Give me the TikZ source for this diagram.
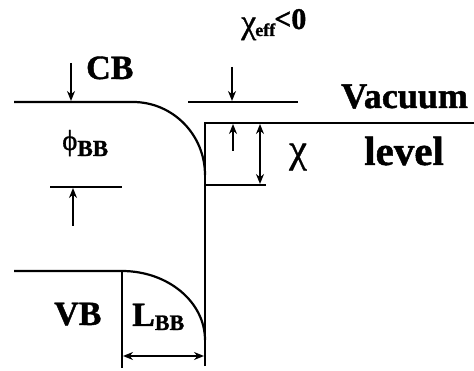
\documentclass[tikz,border=0pt]{standalone}
\usepackage{fontspec}
\setmainfont{Liberation Serif}[BoldFeatures={FakeBold=1.2},UprightFeatures={FakeBold=0.8}]
\usetikzlibrary{arrows.meta}
\begin{document}
\begin{tikzpicture}[x=1pt,y=-1pt,
  band/.style={line width=2.2pt},
  dim/.style={line width=1.6pt,-{Stealth[length=10pt,width=8pt]}},
  ddim/.style={line width=1.6pt,{Stealth[length=10pt,width=8pt]}-{Stealth[length=10pt,width=8pt]}},
  lbl/.style={inner sep=0pt,anchor=base west},
  big/.style={font=\fontsize{34}{34}\selectfont\bfseries}]
\useasboundingbox (0,0) rectangle (474,371);
% coordinates
\coordinate (cbL) at (14,102);
\coordinate (cbK) at (133,102);
\coordinate (cbE) at (205,175);
\coordinate (surfT) at (205,123);
\coordinate (surfB) at (205,366);
\coordinate (vacR) at (474,123);
\coordinate (chiB1) at (205,185);
\coordinate (chiB2) at (266,185);
\coordinate (effL) at (188,102);
\coordinate (effR) at (298,102);
\coordinate (phL) at (50,187);
\coordinate (phR) at (122,187);
\coordinate (vbL) at (14,271);
\coordinate (vbK) at (122,271);
\coordinate (vbE) at (205,340);
\coordinate (lbT) at (122,271);
\coordinate (lbB) at (122,368);
% bands
\draw[band] (cbL) -- (cbK) .. controls (173,102) and (205,135) .. (cbE);
\draw[band] (surfB) -- (surfT) -- (vacR);
\draw[band] (chiB1) -- (chiB2);
\draw[band] (effL) -- (effR);
\draw[band] (phL) -- (phR);
\draw[band] (vbL) -- (vbK) .. controls (168,271) and (205,302) .. (vbE);
\draw[line width=1.8pt] (lbT) -- (lbB);
% dimension arrows
\coordinate (a1s) at (71,63);   \coordinate (a1e) at (71,101);
\coordinate (a2s) at (73,226);  \coordinate (a2e) at (73,188);
\coordinate (a3s) at (232,67);  \coordinate (a3e) at (232,101);
\coordinate (a4s) at (233,151); \coordinate (a4e) at (233,124);
\coordinate (a5s) at (260,124); \coordinate (a5e) at (260,184);
\coordinate (a6s) at (123,356); \coordinate (a6e) at (204,356);
\draw[dim] (a1s) -- (a1e);
\draw[dim] (a2s) -- (a2e);
\draw[dim] (a3s) -- (a3e);
\draw[dim] (a4s) -- (a4e);
\draw[ddim] (a5s) -- (a5e);
\draw[ddim] (a6s) -- (a6e);
% labels
\node[lbl,big] (cb) at (86,79) {CB};
\node[lbl,big] (vb) at (54,325) {VB};
\node[lbl,font=\fontsize{36}{36}\selectfont\bfseries] (vac) at (341,108) {Vacuum};
\node[lbl,font=\fontsize{41}{41}\selectfont\bfseries] (lev) at (364,165) {level};
\node[lbl,font=\fontsize{40}{40}\selectfont] (chi) at (289,162) {χ};
\node[lbl] (phi) at (62,150) {\fontsize{29}{29}\selectfont ϕ\fontsize{23}{23}\selectfont\bfseries\raisebox{-6pt}{BB}};
\node[lbl] (lbb) at (132,326) {\fontsize{34}{34}\selectfont\bfseries L\fontsize{22}{22}\selectfont\raisebox{-4pt}{BB}};
\node[lbl] (chieff) at (241,33) {\fontsize{34}{34}\selectfont χ\kern-1pt\raisebox{-3pt}{\fontsize{18}{18}\selectfont\bfseries eff}\kern-1pt\raisebox{4pt}{\fontsize{30}{30}\selectfont\bfseries <0}};
\end{tikzpicture}
\end{document}
